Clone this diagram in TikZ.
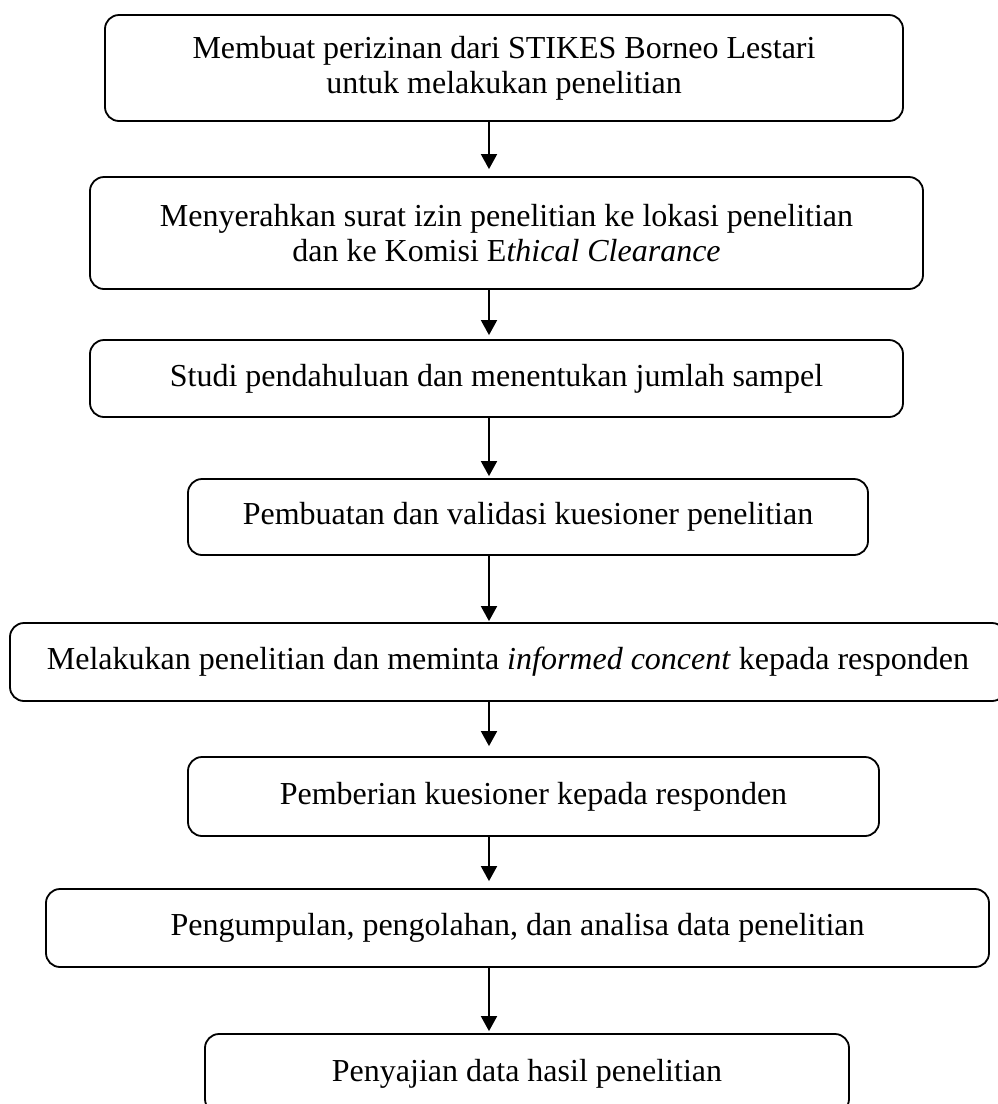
\documentclass[tikz,border=0pt]{standalone}
\usepackage{fontspec}
\setmainfont{Liberation Serif}
\usetikzlibrary{arrows.meta}

\begin{document}
\begin{tikzpicture}[x=1pt, y=-1pt,
    kotak/.style={draw, line width=0.9pt, rounded corners=7pt, inner sep=0pt, align=center, font=\fontsize{16}{17.5}\selectfont},
    panah/.style={-{Triangle[length=7.5pt, width=8pt]}, line width=0.9pt}]
    \useasboundingbox (0,0) rectangle (498.5,552);
    \node[kotak, minimum width=399pt, minimum height=53pt] (izin) at (252,34) {Membuat perizinan dari STIKES Borneo Lestari\\untuk melakukan penelitian};
    \node[kotak, minimum width=416.5pt, minimum height=56pt] (surat) at (253.25,116.5) {Menyerahkan surat izin penelitian ke lokasi penelitian\\dan ke Komisi E\textit{thical Clearance}};
    \node[kotak, minimum width=406.5pt, minimum height=38.5pt] (studi) at (248.25,189.25) {Studi pendahuluan dan menentukan jumlah sampel};
    \node[kotak, minimum width=340pt, minimum height=38pt] (kuesioner) at (264,258.5) {Pembuatan dan validasi kuesioner penelitian};
    \node[kotak, minimum width=498pt, minimum height=39pt] (penelitian) at (254,331) {Melakukan penelitian dan meminta \textit{informed concent} kepada responden};
    \node[kotak, minimum width=345.5pt, minimum height=39.5pt] (pemberian) at (266.75,398.25) {Pemberian kuesioner kepada responden};
    \node[kotak, minimum width=471.5pt, minimum height=39pt] (analisa) at (258.75,464) {Pengumpulan, pengolahan, dan analisa data penelitian};
    \node[kotak, minimum width=322pt, minimum height=39.5pt] (penyajian) at (263.5,536.75) {Penyajian data hasil penelitian};
    \coordinate (sumbu) at (244.5,0);
    \foreach \a/\b/\g in {izin/surat/3.5, surat/studi/2, studi/kuesioner/1, kuesioner/penelitian/0.5,
        penelitian/pemberian/5, pemberian/analisa/3.5, analisa/penyajian/1}
        \draw[panah, shorten >=\g pt] (\a.south -| sumbu) -- (\b.north -| sumbu);
\end{tikzpicture}
\end{document}
